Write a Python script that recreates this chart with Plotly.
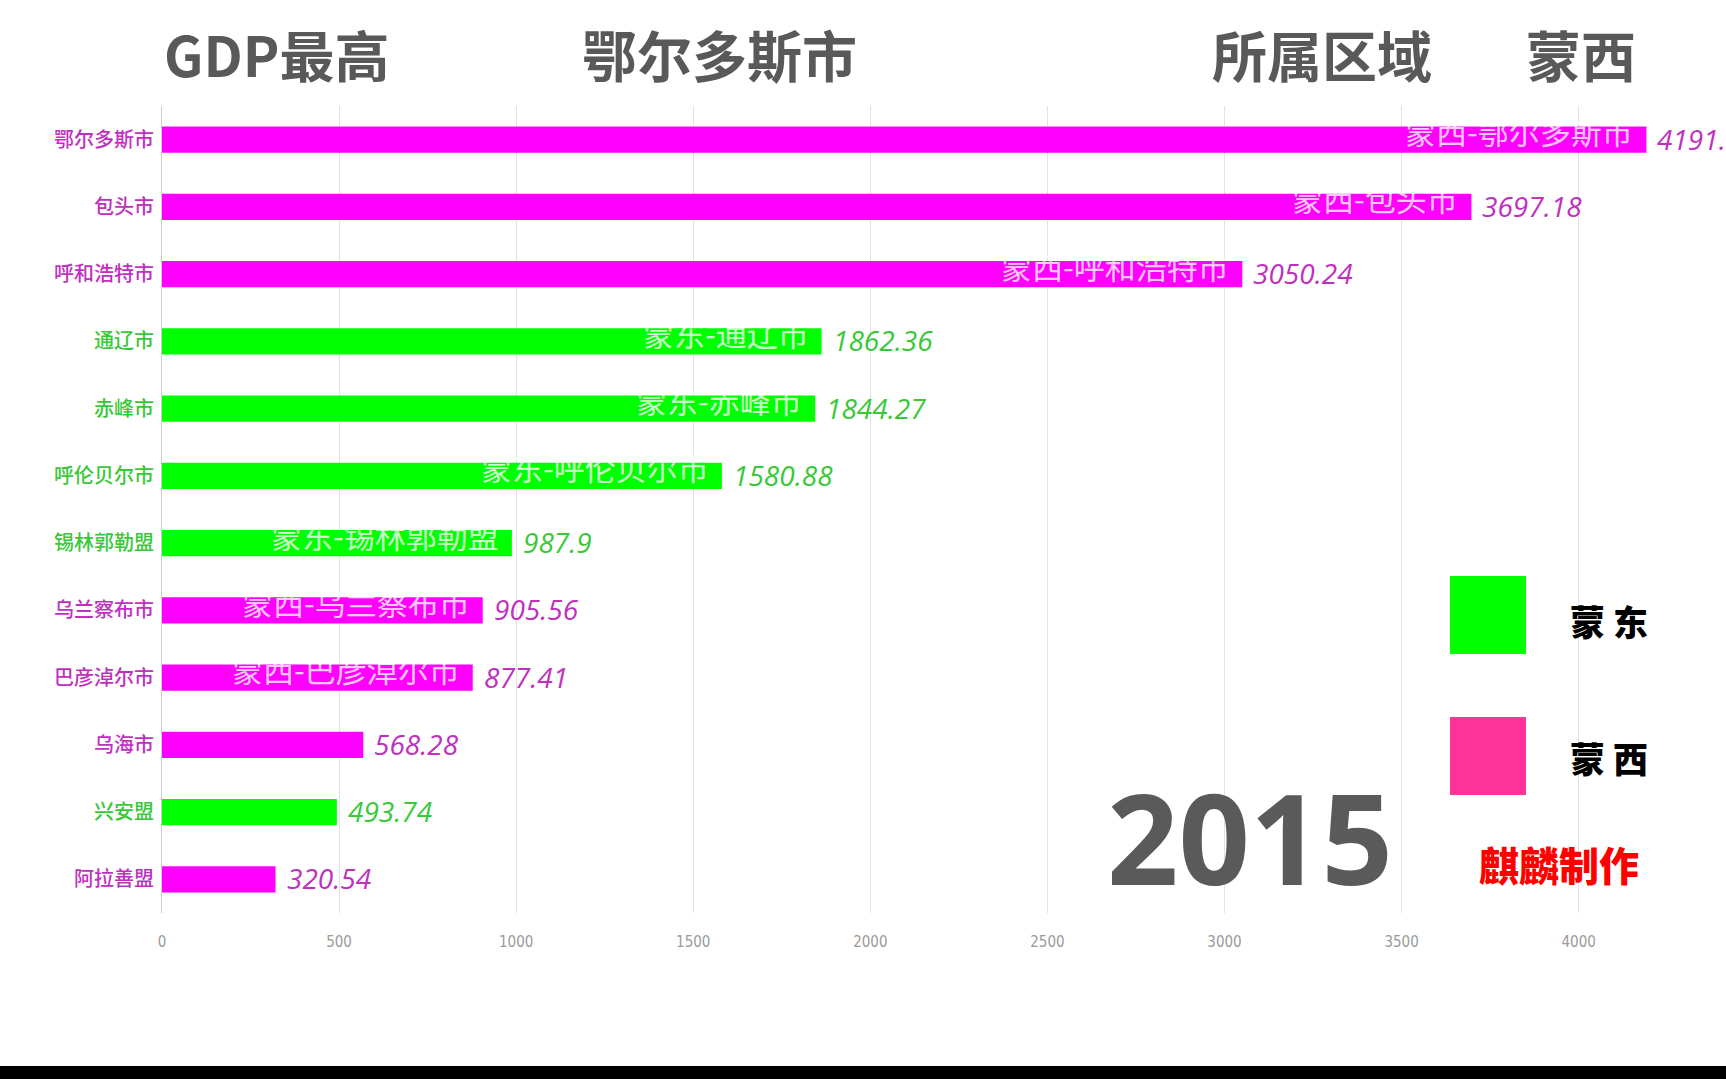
import plotly.graph_objects as go

# ---------------- data ----------------
cities = ["鄂尔多斯市", "包头市", "呼和浩特市", "通辽市", "赤峰市", "呼伦贝尔市",
          "锡林郭勒盟", "乌兰察布市", "巴彦淖尔市", "乌海市", "兴安盟", "阿拉善盟"]
gdp = [4191.35, 3697.18, 3050.24, 1862.36, 1844.27, 1580.88,
       987.9, 905.56, 877.41, 568.28, 493.74, 320.54]
regions = ["蒙西", "蒙西", "蒙西", "蒙东", "蒙东", "蒙东",
           "蒙东", "蒙西", "蒙西", "蒙西", "蒙东", "蒙西"]
x_ticks = [0, 500, 1000, 1500, 2000, 2500, 3000, 3500, 4000]
year = "2015"
top_label = "GDP最高"
top_city = "鄂尔多斯市"
region_label = "所属区域"
top_region = "蒙西"
legend_items = ["蒙东", "蒙西"]
credit = "麒麟制作"

# ---------------- styles ----------------
bar_colors = {"蒙西": "#FF00FF", "蒙东": "#00FF00"}
text_colors = {"蒙西": "#C030C0", "蒙东": "#38C838"}
legend_colors = {"蒙东": "#00FF00", "蒙西": "#FF3399"}

W, H = 1726, 1079
L, R, T, B = 162, 0, 106, 166
PW, PH = W - L - R, H - T - B
XMAX = 4416


def px_x(px):
    return (px - L) / PW


def px_y(py):
    return (H - B - py) / PH


fig = go.Figure()
fig.add_trace(go.Bar(
    x=gdp, y=cities, orientation="h",
    marker=dict(color=[bar_colors[r] for r in regions], line=dict(width=0)),
    width=0.39, hoverinfo="skip", showlegend=False,
))

annotations = []
for c, v, r in zip(cities, gdp, regions):
    # value label outside bar end
    annotations.append(dict(
        x=v, y=c, xref="x", yref="y", text="<i>" + str(v) + "</i>",
        showarrow=False, xanchor="left", yanchor="middle", xshift=9, yshift=1,
        font=dict(family="Open Sans, Noto Sans, sans-serif", size=28, color=text_colors[r]),
    ))
    # region-city label inside bar end (only where the bar is long enough)
    if v > 800:
        annotations.append(dict(
            x=v, y=c, xref="x", yref="y", text=r + "-" + c,
            showarrow=False, xanchor="right", yanchor="middle", xshift=-11, yshift=9,
            font=dict(family="Noto Sans CJK SC", size=31, color="rgba(255,255,255,0.8)"),
        ))

title_font = dict(family="Noto Sans CJK SC", size=55, color="#595959", weight="bold")
for txt, px in [(top_label, 162), (top_city, 580), (region_label, 1210), (top_region, 1524)]:
    annotations.append(dict(x=px_x(px), y=px_y(53), xref="paper", yref="paper",
                            text=txt, showarrow=False, xanchor="left", yanchor="middle",
                            font=title_font))

annotations.append(dict(x=px_x(1250), y=px_y(836), xref="paper", yref="paper",
                        text=year, showarrow=False, xanchor="center", yanchor="middle",
                        font=dict(family="Open Sans", size=125, color="#5A5A5A", weight="bold")))

shapes = []
for item, cy, ty in [(legend_items[0], 615, 620), (legend_items[1], 756, 757)]:
    shapes.append(dict(type="rect", xref="paper", yref="paper",
                       x0=px_x(1450), x1=px_x(1526), y0=px_y(cy - 39), y1=px_y(cy + 39),
                       fillcolor=legend_colors[item], line=dict(width=0)))
    annotations.append(dict(x=px_x(1609), y=px_y(ty), xref="paper", yref="paper",
                            text=item[0] + " " + item[1], showarrow=False,
                            xanchor="center", yanchor="middle",
                            font=dict(family="Noto Sans CJK SC", size=35, color="#000000", weight=900)))

annotations.append(dict(x=px_x(1559), y=px_y(864), xref="paper", yref="paper",
                        text=credit, showarrow=False, xanchor="center", yanchor="middle",
                        font=dict(family="Noto Sans CJK SC", size=40, color="#FF0000", weight=900)))

# black band at the bottom
shapes.append(dict(type="rect", xref="paper", yref="paper",
                   x0=px_x(0), x1=1, y0=px_y(1079), y1=px_y(1066),
                   fillcolor="#000000", line=dict(width=0), layer="above"))

ticktext = ["<span style='color:%s'>%s</span>" % (text_colors[r], c) for c, r in zip(cities, regions)]

fig.update_layout(
    width=W, height=H,
    margin=dict(l=L, r=R, t=T, b=B, pad=0),
    paper_bgcolor="#FFFFFF", plot_bgcolor="#FFFFFF",
    annotations=annotations, shapes=shapes,
    xaxis=dict(range=[0, XMAX], tickvals=x_ticks, ticktext=[str(t) for t in x_ticks],
               showgrid=True, gridcolor="#E2E2E2", gridwidth=1, zeroline=False,
               showline=False, ticks="", ticklabelstandoff=18,
               tickfont=dict(family="Liberation Sans Narrow, DejaVu Sans Condensed, sans-serif",
                             size=15, color="#9A9A9A"), fixedrange=True),
    yaxis=dict(categoryorder="array", categoryarray=cities, autorange="reversed",
               tickvals=cities, ticktext=ticktext, showgrid=False, zeroline=False,
               showline=True, linecolor="#CCCCCC", linewidth=1, ticks="",
               ticklabelstandoff=3,
               tickfont=dict(family="Noto Sans CJK SC", size=20, color="#C030C0", weight=500),
               fixedrange=True),
    bargap=0.6,
    showlegend=False,
)

fig.write_html("out.html", config={"displayModeBar": False})
